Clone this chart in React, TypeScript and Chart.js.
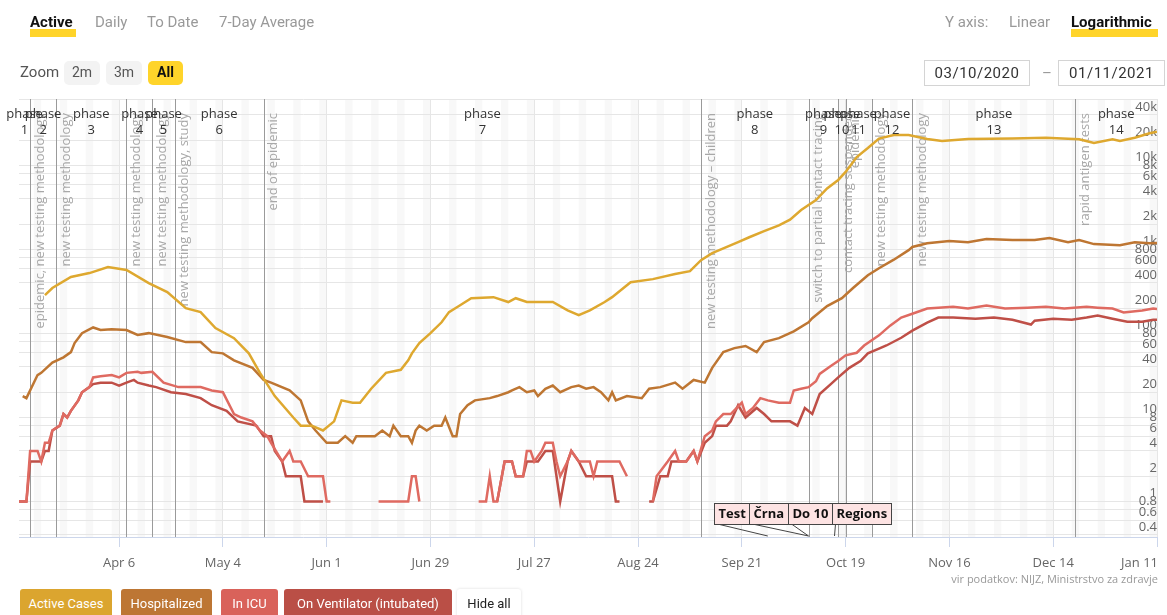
import React, { useEffect, useRef } from "react";
import { Chart, registerables } from "chart.js";

Chart.register(...registerables);

// ---------- data ----------
const X_MIN_DATE = "2020-03-10";
const X_MAX_DATE = "2021-01-11";

const xTickDates = ["2020-04-06", "2020-05-04", "2020-06-01", "2020-06-29", "2020-07-27", "2020-08-24", "2020-09-21", "2020-10-19", "2020-11-16", "2020-12-14", "2021-01-11"];
const xTickLabels = ["Apr 6", "May 4", "Jun 1", "Jun 29", "Jul 27", "Aug 24", "Sep 21", "Oct 19", "Nov 16", "Dec 14", "Jan 11"];

const yTickValues = [0.4, 0.6, 0.8, 1, 2, 4, 6, 8, 10, 20, 40, 60, 80, 100, 200, 400, 600, 800, 1000, 2000, 4000, 6000, 8000, 10000, 20000, 40000];
const yTickLabels = ["0.4", "0.6", "0.8", "1", "2", "4", "6", "8", "10", "20", "40", "60", "80", "100", "200", "400", "600", "800", "1k", "2k", "4k", "6k", "8k", "10k", "20k", "40k"];

const activeCases: [string, number | null][] = [
  ["2020-03-17", 287], ["2020-03-19", 348], ["2020-03-24", 470], ["2020-03-29", 524], ["2020-04-03", 617], ["2020-04-08", 570],
  ["2020-04-14", 398], ["2020-04-19", 311], ["2020-04-24", 200], ["2020-04-28", 180], ["2020-05-02", 116], ["2020-05-07", 88],
  ["2020-05-11", 58], ["2020-05-14", 34], ["2020-05-18", 18], ["2020-05-23", 10], ["2020-05-25", 8], ["2020-05-28", 8],
  ["2020-05-31", 7], ["2020-06-03", 9], ["2020-06-05", 16], ["2020-06-08", 15], ["2020-06-10", 15], ["2020-06-13", 22],
  ["2020-06-17", 34], ["2020-06-21", 37], ["2020-06-23", 48], ["2020-06-24", 58], ["2020-06-26", 77], ["2020-06-29", 101],
  ["2020-07-02", 136], ["2020-07-04", 180], ["2020-07-07", 217], ["2020-07-10", 263], ["2020-07-16", 271], ["2020-07-20", 237],
  ["2020-07-22", 263], ["2020-07-25", 237], ["2020-08-01", 237], ["2020-08-05", 189], ["2020-08-08", 165], ["2020-08-11", 189],
  ["2020-08-15", 237], ["2020-08-17", 271], ["2020-08-22", 408], ["2020-08-28", 444], ["2020-09-03", 510], ["2020-09-07", 552],
  ["2020-09-10", 747], ["2020-09-13", 905], ["2020-09-20", 1223], ["2020-09-23", 1399], ["2020-09-27", 1657], ["2020-10-01", 1940],
  ["2020-10-04", 2268], ["2020-10-07", 2948], ["2020-10-11", 3868], ["2020-10-14", 5330], ["2020-10-17", 6728], ["2020-10-19", 8379],
  ["2020-10-22", 12600], ["2020-10-25", 16128], ["2020-10-28", 20916], ["2020-11-01", 23058], ["2020-11-05", 23058], ["2020-11-10", 20664],
  ["2020-11-14", 19530], ["2020-11-21", 20664], ["2020-12-03", 20916], ["2020-12-12", 21420], ["2020-12-21", 20538], ["2020-12-25", 18522],
  ["2020-12-30", 20538], ["2021-01-01", 19530], ["2021-01-05", 21420], ["2021-01-09", 24192], ["2021-01-11", 25200],
];

const hospitalized: [string, number | null][] = [
  ["2020-03-11", 18], ["2020-03-12", 17], ["2020-03-15", 32], ["2020-03-16", 34], ["2020-03-19", 45], ["2020-03-22", 52],
  ["2020-03-24", 60], ["2020-03-25", 77], ["2020-03-27", 101], ["2020-03-30", 118], ["2020-04-01", 110], ["2020-04-04", 112],
  ["2020-04-08", 110], ["2020-04-11", 96], ["2020-04-14", 101], ["2020-04-19", 91], ["2020-04-24", 79], ["2020-04-28", 79],
  ["2020-05-01", 60], ["2020-05-04", 58], ["2020-05-07", 48], ["2020-05-12", 39], ["2020-05-15", 28], ["2020-05-17", 26],
  ["2020-05-22", 21], ["2020-05-25", 16], ["2020-05-27", 9], ["2020-05-29", 7], ["2020-06-01", 5], ["2020-06-04", 5],
  ["2020-06-06", 6], ["2020-06-08", 5], ["2020-06-09", 6], ["2020-06-14", 6], ["2020-06-16", 7], ["2020-06-18", 6],
  ["2020-06-19", 8], ["2020-06-21", 6], ["2020-06-23", 6], ["2020-06-24", 5], ["2020-06-25", 7], ["2020-06-26", 8],
  ["2020-06-28", 7], ["2020-06-30", 8], ["2020-07-02", 8], ["2020-07-03", 10], ["2020-07-05", 6], ["2020-07-06", 6],
  ["2020-07-07", 11], ["2020-07-09", 14], ["2020-07-11", 16], ["2020-07-15", 17], ["2020-07-17", 18], ["2020-07-20", 20],
  ["2020-07-21", 21], ["2020-07-23", 23], ["2020-07-25", 20], ["2020-07-27", 21], ["2020-07-28", 18], ["2020-07-30", 22],
  ["2020-08-01", 24], ["2020-08-03", 20], ["2020-08-06", 23], ["2020-08-08", 24], ["2020-08-10", 22], ["2020-08-12", 23],
  ["2020-08-14", 20], ["2020-08-16", 16], ["2020-08-17", 20], ["2020-08-18", 16], ["2020-08-21", 18], ["2020-08-25", 17],
  ["2020-08-27", 22], ["2020-08-30", 23], ["2020-09-03", 26], ["2020-09-05", 22], ["2020-09-08", 28], ["2020-09-11", 26],
  ["2020-09-13", 39], ["2020-09-16", 60], ["2020-09-19", 67], ["2020-09-22", 71], ["2020-09-25", 60], ["2020-09-27", 79],
  ["2020-10-01", 88], ["2020-10-05", 106], ["2020-10-09", 136], ["2020-10-10", 152], ["2020-10-14", 212], ["2020-10-18", 263],
  ["2020-10-21", 348], ["2020-10-25", 494], ["2020-10-28", 599], ["2020-11-01", 756], ["2020-11-05", 983], ["2020-11-06", 1071],
  ["2020-11-10", 1184], ["2020-11-16", 1260], ["2020-11-21", 1222], ["2020-11-26", 1336], ["2020-12-03", 1298], ["2020-12-09", 1298],
  ["2020-12-13", 1373], ["2020-12-18", 1222], ["2020-12-21", 1298], ["2020-12-25", 1159], ["2021-01-01", 1121], ["2021-01-05", 1222],
  ["2021-01-09", 1184], ["2021-01-11", 1197],
];

const inIcu: [string, number | null][] = [
  ["2020-03-10", 1], ["2020-03-12", 1], ["2020-03-13", 4], ["2020-03-15", 4], ["2020-03-16", 3], ["2020-03-17", 5],
  ["2020-03-18", 5], ["2020-03-19", 7], ["2020-03-21", 8], ["2020-03-22", 11], ["2020-03-23", 10], ["2020-03-24", 12],
  ["2020-03-26", 16], ["2020-03-27", 20], ["2020-03-29", 23], ["2020-03-30", 30], ["2020-04-01", 31], ["2020-04-04", 32],
  ["2020-04-06", 30], ["2020-04-08", 34], ["2020-04-11", 35], ["2020-04-12", 34], ["2020-04-15", 35], ["2020-04-18", 26],
  ["2020-04-22", 23], ["2020-04-28", 23], ["2020-05-01", 21], ["2020-05-04", 20], ["2020-05-07", 11], ["2020-05-09", 10],
  ["2020-05-12", 9], ["2020-05-14", 7], ["2020-05-16", 6], ["2020-05-17", 5], ["2020-05-20", 3], ["2020-05-22", 4],
  ["2020-05-23", 3], ["2020-05-25", 3], ["2020-05-27", 2], ["2020-05-31", 2], ["2020-06-01", 1], ["2020-06-02", 1],
  ["2020-06-03", null], ["2020-06-15", 1], ["2020-06-23", 1], ["2020-06-24", 2], ["2020-06-25", 2], ["2020-06-26", 1],
  ["2020-06-27", null], ["2020-07-12", 1], ["2020-07-14", 1], ["2020-07-15", 2], ["2020-07-16", 1], ["2020-07-17", 1],
  ["2020-07-19", 3], ["2020-07-21", 3], ["2020-07-22", 2], ["2020-07-24", 2], ["2020-07-25", 4], ["2020-07-26", 4],
  ["2020-07-27", 3], ["2020-07-29", 4], ["2020-07-30", 5], ["2020-08-01", 5], ["2020-08-02", 3], ["2020-08-03", 2],
  ["2020-08-05", 3], ["2020-08-06", 4], ["2020-08-08", 3], ["2020-08-11", 3], ["2020-08-12", 2], ["2020-08-13", 3],
  ["2020-08-19", 3], ["2020-08-21", 2], ["2020-08-22", null], ["2020-08-28", 1], ["2020-08-29", 2], ["2020-09-01", 3],
  ["2020-09-03", 4], ["2020-09-04", 3], ["2020-09-06", 3], ["2020-09-08", 4], ["2020-09-09", 3], ["2020-09-11", 6],
  ["2020-09-13", 7], ["2020-09-14", 9], ["2020-09-16", 11], ["2020-09-18", 11], ["2020-09-21", 15], ["2020-09-22", 11],
  ["2020-09-24", 13], ["2020-09-26", 17], ["2020-09-28", 16], ["2020-10-01", 15], ["2020-10-04", 15], ["2020-10-05", 21],
  ["2020-10-07", 22], ["2020-10-09", 23], ["2020-10-11", 27], ["2020-10-12", 33], ["2020-10-15", 41], ["2020-10-17", 47],
  ["2020-10-19", 55], ["2020-10-22", 59], ["2020-10-24", 72], ["2020-10-28", 95], ["2020-10-31", 124], ["2020-11-03", 155],
  ["2020-11-06", 172], ["2020-11-10", 198], ["2020-11-13", 203], ["2020-11-17", 208], ["2020-11-21", 198], ["2020-11-26", 215],
  ["2020-12-01", 198], ["2020-12-07", 203], ["2020-12-12", 208], ["2020-12-17", 198], ["2020-12-23", 208], ["2020-12-26", 203],
  ["2020-12-30", 198], ["2021-01-02", 178], ["2021-01-07", 188], ["2021-01-10", 198], ["2021-01-11", 196],
];

const onVentilator: [string, number | null][] = [
  ["2020-03-10", 1], ["2020-03-12", 1], ["2020-03-13", 3], ["2020-03-16", 3], ["2020-03-17", 4], ["2020-03-18", 4],
  ["2020-03-19", 7], ["2020-03-21", 8], ["2020-03-22", 11], ["2020-03-23", 10], ["2020-03-24", 12], ["2020-03-26", 16],
  ["2020-03-27", 20], ["2020-03-29", 23], ["2020-03-30", 25], ["2020-04-01", 26], ["2020-04-04", 26], ["2020-04-06", 24],
  ["2020-04-08", 26], ["2020-04-10", 28], ["2020-04-11", 26], ["2020-04-14", 24], ["2020-04-16", 23], ["2020-04-20", 20],
  ["2020-04-24", 19], ["2020-04-28", 17], ["2020-05-01", 14], ["2020-05-05", 12], ["2020-05-08", 9], ["2020-05-13", 8],
  ["2020-05-15", 6], ["2020-05-17", 6], ["2020-05-18", 4], ["2020-05-20", 3], ["2020-05-21", 2], ["2020-05-25", 2],
  ["2020-05-26", 1], ["2020-05-31", 1], ["2020-06-01", null], ["2020-07-17", 1], ["2020-07-19", 3], ["2020-07-21", 3],
  ["2020-07-22", 2], ["2020-07-24", 2], ["2020-07-25", 3], ["2020-07-28", 3], ["2020-07-30", 4], ["2020-08-01", 4],
  ["2020-08-02", 2], ["2020-08-03", 1], ["2020-08-05", 3], ["2020-08-06", 4], ["2020-08-08", 3], ["2020-08-10", 2],
  ["2020-08-17", 2], ["2020-08-18", 1], ["2020-08-19", 1], ["2020-08-20", null], ["2020-08-27", 1], ["2020-08-28", 1],
  ["2020-08-30", 2], ["2020-09-01", 2], ["2020-09-02", 3], ["2020-09-06", 3], ["2020-09-08", 4], ["2020-09-09", 3],
  ["2020-09-11", 5], ["2020-09-13", 6], ["2020-09-14", 8], ["2020-09-17", 8], ["2020-09-18", 9], ["2020-09-20", 14],
  ["2020-09-22", 10], ["2020-09-25", 13], ["2020-09-27", 11], ["2020-09-29", 9], ["2020-10-01", 9], ["2020-10-04", 9],
  ["2020-10-06", 8], ["2020-10-08", 13], ["2020-10-10", 11], ["2020-10-12", 19], ["2020-10-15", 25], ["2020-10-17", 30],
  ["2020-10-20", 39], ["2020-10-23", 47], ["2020-10-25", 58], ["2020-10-28", 66], ["2020-10-30", 72], ["2020-11-03", 89],
  ["2020-11-06", 108], ["2020-11-10", 135], ["2020-11-13", 155], ["2020-11-17", 155], ["2020-11-23", 150], ["2020-11-28", 155],
  ["2020-12-03", 146], ["2020-12-08", 128], ["2020-12-09", 142], ["2020-12-14", 150], ["2020-12-19", 146], ["2020-12-23", 155],
  ["2020-12-26", 164], ["2020-12-30", 150], ["2021-01-03", 138], ["2021-01-07", 138], ["2021-01-10", 146], ["2021-01-11", 146],
];

const phaseStarts = ["2020-03-10", "2020-03-13", "2020-03-20", "2020-04-08", "2020-04-15", "2020-04-21", "2020-05-15", "2020-09-10", "2020-10-09", "2020-10-17", "2020-10-19", "2020-10-26", "2020-11-06", "2020-12-20"];
const phaseNames = ["1", "2", "3", "4", "5", "6", "7", "8", "9", "10", "11", "12", "13", "14"];

const eventDates = ["2020-03-13", "2020-03-20", "2020-04-08", "2020-04-15", "2020-04-21", "2020-05-15", "2020-09-10", "2020-10-09", "2020-10-17", "2020-10-19", "2020-10-26", "2020-11-06", "2020-12-20"];
const eventTexts = [
  "epidemic, new testing methodology", "new testing methodology", "new testing methodology", "new testing methodology",
  "new testing methodology, study", "end of epidemic", "new testing methodology – children", "switch to partial contact tracing",
  "contact tracing suspended", "epidemic", "new testing methodology", "new testing methodology", "rapid antigen tests",
];

const flagDates = ["2020-09-28", "2020-10-09", "2020-10-09", "2020-10-16"];
const flagTexts = ["Test", "Črna", "Do 10", "Regions"];

const seriesNames = ["Active Cases", "Hospitalized", "In ICU", "On Ventilator (intubated)"];
const seriesColors = ["#dea82f", "#be7632", "#df6a61", "#bf4f47"];
const buttonColors = ["#dba52f", "#bd7634", "#d9625a", "#ba4f46"];

// ---------- helpers ----------
const BASE = Date.UTC(2020, 3, 6);
const day = (s: string) => {
  const [y, m, d] = s.split("-").map(Number);
  return (Date.UTC(y, m - 1, d) - BASE) / 86400000;
};
const toPoints = (arr: [string, number | null][]) => arr.map(([d, v]) => ({ x: day(d), y: v }));

const FONT = "'Open Sans', 'DejaVu Sans', sans-serif";

const overlay = {
  id: "overlay",
  beforeDraw(chart: any) {
    const { ctx, chartArea: a } = chart;
    const x = chart.scales.x;
    ctx.save();
    ctx.fillStyle = "#f8f8f8";
    const first = Math.floor((x.min + 2) / 7) * 7 - 2;
    for (let d = first; d <= x.max; d += 7) {
      const x0 = Math.max(a.left, x.getPixelForValue(d));
      const x1 = Math.min(a.right, x.getPixelForValue(d + 2));
      if (x1 > x0) ctx.fillRect(x0, a.top, x1 - x0, a.bottom - a.top);
    }
    ctx.strokeStyle = "#e6e6e6";
    ctx.lineWidth = 1;
    ctx.beginPath();
    ctx.moveTo(a.left, a.top + 0.5);
    ctx.lineTo(a.right, a.top + 0.5);
    ctx.stroke();
    ctx.restore();
  },
  beforeDatasetsDraw(chart: any) {
    const { ctx, chartArea: a } = chart;
    const x = chart.scales.x;
    ctx.save();
    ctx.strokeStyle = "#9a9a9a";
    ctx.lineWidth = 1;
    phaseStarts.slice(1).forEach((d) => {
      const px = Math.round(x.getPixelForValue(day(d))) + 0.5;
      ctx.beginPath();
      ctx.moveTo(px, a.top);
      ctx.lineTo(px, a.bottom);
      ctx.stroke();
    });
    ctx.fillStyle = "#a8a8a8";
    ctx.font = `13px ${FONT}`;
    eventDates.forEach((d, i) => {
      const px = x.getPixelForValue(day(d));
      ctx.save();
      ctx.translate(px + 10, a.top + 14);
      ctx.rotate(-Math.PI / 2);
      ctx.textAlign = "right";
      ctx.textBaseline = "middle";
      ctx.fillText(eventTexts[i], 0, 0);
      ctx.restore();
    });
    ctx.restore();
  },
  afterDatasetsDraw(chart: any) {
    const { ctx, chartArea: a } = chart;
    const x = chart.scales.x;
    ctx.save();
    // phase labels
    ctx.fillStyle = "#333";
    ctx.font = `13px ${FONT}`;
    ctx.textAlign = "center";
    ctx.textBaseline = "middle";
    phaseStarts.forEach((d, i) => {
      const s = Math.max(a.left, x.getPixelForValue(day(d)));
      const e = i + 1 < phaseStarts.length ? x.getPixelForValue(day(phaseStarts[i + 1])) : a.right;
      const c = (s + e) / 2;
      ctx.fillText("phase", c, a.top + 15);
      ctx.fillText(phaseNames[i], c, a.top + 31);
    });
    // x labels
    ctx.fillStyle = "#666";
    ctx.font = `13px ${FONT}`;
    xTickDates.forEach((d, i) => {
      let px = x.getPixelForValue(day(d));
      const w = ctx.measureText(xTickLabels[i]).width;
      if (px + w / 2 > a.right + 1) px = a.right + 1 - w / 2;
      ctx.fillText(xTickLabels[i], px, 563);
    });
    // source
    ctx.fillStyle = "#999";
    ctx.font = `11px ${FONT}`;
    ctx.textAlign = "right";
    ctx.fillText("vir podatkov: NIJZ, Ministrstvo za zdravje", a.right + 1, 580);
    // flags
    ctx.font = `bold 13px ${FONT}`;
    const widths = flagTexts.map((t) => ctx.measureText(t).width + 8);
    const anchors = flagDates.map((d) => x.getPixelForValue(day(d)));
    const lefts: number[] = new Array(flagTexts.length);
    lefts[flagTexts.length - 1] = anchors[flagTexts.length - 1] - 3;
    for (let i = flagTexts.length - 2; i >= 0; i--) lefts[i] = lefts[i + 1] - widths[i];
    const top = 503, h = 21;
    ctx.strokeStyle = "#444";
    ctx.lineWidth = 1;
    flagTexts.forEach((t, i) => {
      ctx.beginPath();
      ctx.moveTo(Math.round(lefts[i]) + 3.5, top + h);
      ctx.lineTo(anchors[i], a.bottom - 1);
      ctx.stroke();
    });
    flagTexts.forEach((t, i) => {
      const l = Math.round(lefts[i]) + 0.5;
      ctx.fillStyle = "#fde3e3";
      ctx.fillRect(l, top + 0.5, Math.round(widths[i]), h);
      ctx.strokeRect(l, top + 0.5, Math.round(widths[i]), h);
      ctx.fillStyle = "#111";
      ctx.textAlign = "left";
      ctx.fillText(t, l + 4, top + h / 2 + 1);
    });
    ctx.restore();
  },
};

const abs = (s: any): any => ({ position: "absolute", ...s });

export default function App() {
  const ref = useRef<HTMLCanvasElement>(null);
  useEffect(() => {
    const canvas = ref.current!;
    const series = [activeCases, hospitalized, inIcu, onVentilator];
    const chart = new Chart(canvas, {
      type: "line",
      data: {
        datasets: series.map((s, i) => ({
          label: seriesNames[i],
          data: toPoints(s),
          borderColor: seriesColors[i],
          backgroundColor: seriesColors[i],
          borderWidth: 2.5,
          pointRadius: 0,
          tension: 0,
          spanGaps: false,
          fill: false,
        })),
      },
      options: {
        animation: false,
        responsive: false,
        maintainAspectRatio: false,
        layout: { padding: { left: 19, top: 99, right: 0, bottom: 0 } },
        plugins: { legend: { display: false }, tooltip: { enabled: false } },
        scales: {
          x: {
            type: "linear",
            min: day(X_MIN_DATE),
            max: day(X_MAX_DATE),
            afterBuildTicks: (s: any) => {
              s.ticks = xTickDates.map((d) => ({ value: day(d) }));
            },
            afterFit: (s: any) => {
              s.height = 78;
            },
            grid: { color: "#e6e6e6", tickColor: "#ccd6eb", tickLength: 10 },
            border: { color: "#ccd6eb" },
            ticks: { display: false },
          },
          y: {
            type: "logarithmic",
            position: "right",
            min: 0.378,
            max: 61900,
            afterBuildTicks: (s: any) => {
              s.ticks = yTickValues.map((v) => ({ value: v }));
            },
            afterFit: (s: any) => {
              s.width = 10;
            },
            grid: { color: "#e6e6e6", drawTicks: false },
            border: { display: false },
            ticks: {
              mirror: true,
              autoSkip: false,
              padding: 0,
              labelOffset: -8,
              color: "#666",
              font: { size: 13, family: FONT },
              callback: (_v: any, i: number) => yTickLabels[i],
            },
          },
        },
      } as any,
      plugins: [overlay],
    });
    return () => chart.destroy();
  }, []);

  const ui = "Roboto, 'Noto Sans', sans-serif";
  return (
    <div style={abs({ left: 0, top: 0, width: 1167, height: 615, overflow: "hidden", background: "#fff", fontFamily: ui })}>
      <canvas ref={ref} width={1167} height={615} style={abs({ left: 0, top: 0, width: 1167, height: 615 })} />
      {/* tabs */}
      <div style={abs({ left: 30, top: 29, width: 46, height: 8, background: "#ffd42a" })} />
      <div style={abs({ left: 30, top: 12, fontSize: 15, fontWeight: 700, color: "#111", lineHeight: "20px" })}>Active</div>
      <div style={abs({ left: 95, top: 12, fontSize: 15, color: "#999", lineHeight: "20px" })}>Daily</div>
      <div style={abs({ left: 147, top: 12, fontSize: 15, color: "#999", lineHeight: "20px" })}>To Date</div>
      <div style={abs({ left: 219, top: 12, fontSize: 15, color: "#999", lineHeight: "20px" })}>7-Day Average</div>
      <div style={abs({ left: 945, top: 12, fontSize: 15, color: "#999", lineHeight: "20px" })}>Y axis:</div>
      <div style={abs({ left: 1009, top: 12, fontSize: 15, color: "#999", lineHeight: "20px" })}>Linear</div>
      <div style={abs({ left: 1071, top: 29, width: 87, height: 8, background: "#ffd42a" })} />
      <div style={abs({ left: 1071, top: 12, fontSize: 15, fontWeight: 700, color: "#111", lineHeight: "20px" })}>Logarithmic</div>
      {/* zoom row */}
      <div style={abs({ left: 20, top: 62, fontSize: 15, color: "#555", lineHeight: "20px" })}>Zoom</div>
      {[["2m", 64, 36], ["3m", 106, 36], ["All", 148, 35]].map(([t, l, w], i) => (
        <div key={String(t)} style={abs({ left: l, top: 61, width: w, height: 24, borderRadius: 5, background: i === 2 ? "#ffd42a" : "#f3f3f3", fontSize: 14, fontWeight: i === 2 ? 700 : 400, color: i === 2 ? "#111" : "#555", textAlign: "center", lineHeight: "22px" })}>{t}</div>
      ))}
      {/* date inputs */}
      <div style={abs({ left: 924, top: 60, width: 104, height: 24, border: "1px solid #d4d4d4", fontSize: 15, color: "#333", textAlign: "center", lineHeight: "24px", letterSpacing: 0.5 })}>03/10/2020</div>
      <div style={abs({ left: 1042, top: 61, fontSize: 15, color: "#999", lineHeight: "24px" })}>–</div>
      <div style={abs({ left: 1058, top: 60, width: 105, height: 24, border: "1px solid #d4d4d4", fontSize: 15, color: "#333", textAlign: "center", lineHeight: "24px", letterSpacing: 0.5 })}>01/11/2021</div>
      {/* legend buttons */}
      {[[20, 92], [121, 91], [221, 57], [284, 168]].map(([l, w], i) => (
        <div key={i} style={abs({ left: l, top: 589, width: w, height: 30, borderRadius: 3, background: buttonColors[i], color: "#fff", fontSize: 13, textAlign: "center", lineHeight: "30px" })}>{seriesNames[i]}</div>
      ))}
      <div style={abs({ left: 457, top: 589, width: 64, height: 30, borderRadius: 3, background: "#fff", color: "#222", fontSize: 13, textAlign: "center", lineHeight: "30px", boxShadow: "0 0 3px rgba(0,0,0,0.15)" })}>Hide all</div>
    </div>
  );
}
